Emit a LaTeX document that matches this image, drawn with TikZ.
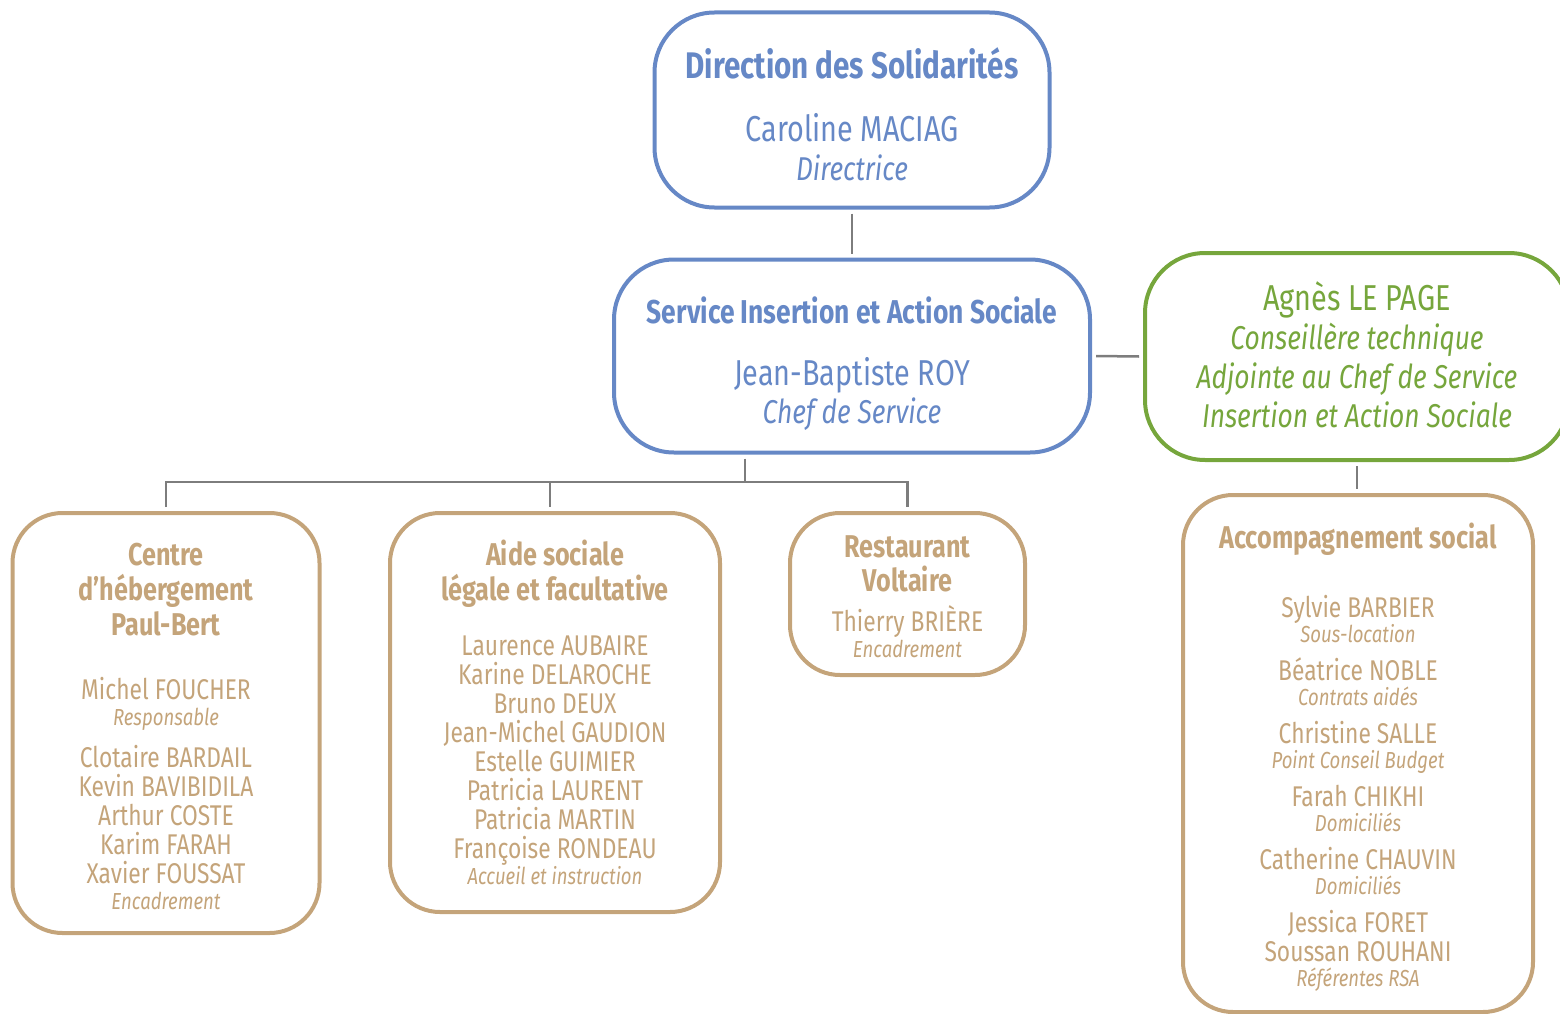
\documentclass[tikz,border=0pt]{standalone}
\usepackage{fontspec}
\setmainfont{Fira Sans}[FakeStretch=0.8]
\definecolor{solblue}{RGB}{102,136,198}
\definecolor{solgreen}{RGB}{118,166,60}
\definecolor{soltan}{RGB}{196,164,122}
\definecolor{solgrey}{RGB}{125,125,125}
\newcommand{\boxtitle}[1]{\bfseries\fontsize{#1}{#1}\selectfont}
\newcommand{\boxname}[1]{\fontsize{#1}{#1}\selectfont}
\newcommand{\boxrole}[1]{\itshape\fontsize{#1}{#1}\selectfont}
\newcommand{\boxlines}[1]{\fontsize{25}{#1}\selectfont\lineskiplimit-100pt\relax}

\begin{document}
\begin{tikzpicture}[x=1pt, y=-1pt,
    org box/.style={draw, line width=4pt, inner sep=0pt, outer sep=6pt},
    blue box/.style={org box, draw=solblue, rounded corners=60pt},
    green box/.style={org box, draw=solgreen, rounded corners=60pt},
    tan box/.style={org box, draw=soltan, rounded corners=50pt},
    org text/.style={align=center, inner sep=0pt},
    link/.style={draw=solgrey, line width=2.5pt}]
\useasboundingbox (0,0) rectangle (1560,1014);

\node[blue box, minimum width=395, minimum height=195] (dir) at (852,110) {};
\node[org text, text=solblue, font=\boxlines{39}] (dir text) at ([yshift=-4pt]dir.center)
    {\boxtitle{37}Direction des Solidarités\\[24pt]
     \boxname{36}Caroline MACIAG\\
     \boxrole{33}Directrice};
\node[blue box, minimum width=476, minimum height=193] (serv) at (852,356) {};
\node[org text, text=solblue, font=\boxlines{38}] (serv text) at ([yshift=-8pt]serv.center)
    {\boxtitle{33}Service Insertion et Action Sociale\\[24pt]
     \boxname{36}Jean-Baptiste ROY\\
     \boxrole{33}Chef de Service};
\node[green box, minimum width=424, minimum height=207] (agnes) at (1357,356.5) {};
\node[org text, text=solgreen, font=\boxlines{39}] (agnes text) at ([yshift=1.5pt]agnes.center)
    {\boxname{36}Agnès LE PAGE\\
     \boxrole{33}Conseillère technique\\
     \boxrole{33}Adjointe au Chef de Service\\
     \boxrole{33}Insertion et Action Sociale};

\node[tan box, minimum width=307, minimum height=420] (heberg) at (166,723) {};
\node[org text, text=soltan, font=\boxlines{26}] (heberg text) at ([yshift=-3pt]heberg.center)
    {\boxtitle{31.5}Centre\\[9pt]
     \boxtitle{31.5}d’hébergement\\[9pt]
     \boxtitle{31.5}Paul-Bert\\[38pt]
     \boxname{28.5}Michel FOUCHER\\
     \boxrole{23.2}Responsable\\[16pt]
     \boxname{28.5}Clotaire BARDAIL\\[3pt]
     \boxname{28.5}Kevin BAVIBIDILA\\[3pt]
     \boxname{28.5}Arthur COSTE\\[3pt]
     \boxname{28.5}Karim FARAH\\[3pt]
     \boxname{28.5}Xavier FOUSSAT\\
     \boxrole{23.2}Encadrement};
\node[tan box, minimum width=330, minimum height=399] (aide) at (555,712.5) {};
\node[org text, text=soltan, font=\boxlines{26}] (aide text) at (aide.center)
    {\boxtitle{31.5}Aide sociale\\[9pt]
     \boxtitle{31.5}légale et facultative\\[29pt]
     \boxname{28.5}Laurence AUBAIRE\\[3pt]
     \boxname{28.5}Karine DELAROCHE\\[3pt]
     \boxname{28.5}Bruno DEUX\\[3pt]
     \boxname{28.5}Jean-Michel GAUDION\\[3pt]
     \boxname{28.5}Estelle GUIMIER\\[3pt]
     \boxname{28.5}Patricia LAURENT\\[3pt]
     \boxname{28.5}Patricia MARTIN\\[3pt]
     \boxname{28.5}Françoise RONDEAU\\
     \boxrole{23.2}Accueil et instruction};
\node[tan box, minimum width=235, minimum height=162] (resto) at (907.5,594) {};
\node[org text, text=soltan, font=\boxlines{26}] (resto text) at ([yshift=-2.5pt]resto.center)
    {\boxtitle{31.5}Restaurant\\[8pt]
     \boxtitle{31.5}Voltaire\\[14pt]
     \boxname{28.5}Thierry BRIÈRE\\
     \boxrole{23.2}Encadrement};
\node[tan box, minimum width=350, minimum height=517] (accomp) at (1358,753.5) {};
\node[org text, text=soltan, font=\boxlines{25}] (accomp text) at ([yshift=-3.5pt]accomp.center)
    {\boxtitle{31.5}Accompagnement social\\[44pt]
     \boxname{28.5}Sylvie BARBIER\\
     \boxrole{23.2}Sous-location\\[13pt]
     \boxname{28.5}Béatrice NOBLE\\
     \boxrole{23.2}Contrats aidés\\[13pt]
     \boxname{28.5}Christine SALLE\\
     \boxrole{23.2}Point Conseil Budget\\[13pt]
     \boxname{28.5}Farah CHIKHI\\
     \boxrole{23.2}Domiciliés\\[13pt]
     \boxname{28.5}Catherine CHAUVIN\\
     \boxrole{23.2}Domiciliés\\[13pt]
     \boxname{28.5}Jessica FORET\\[4pt]
     \boxname{28.5}Soussan ROUHANI\\
     \boxrole{23.2}Référentes RSA};

\coordinate (split) at (745,482);
\coordinate (aide top) at (550,482);
\draw[link] (dir.south) -- (serv.north);
\draw[link] (serv.east) -- (agnes.west);
\draw[link] (agnes.south) -- (agnes.south |- accomp.north);
\draw[link] (serv.south -| split) -- (split);
\draw[link] (heberg.north) |- (split) -| (resto.north);
\draw[link] (aide top) -- (aide top |- aide.north);
\end{tikzpicture}
\end{document}
